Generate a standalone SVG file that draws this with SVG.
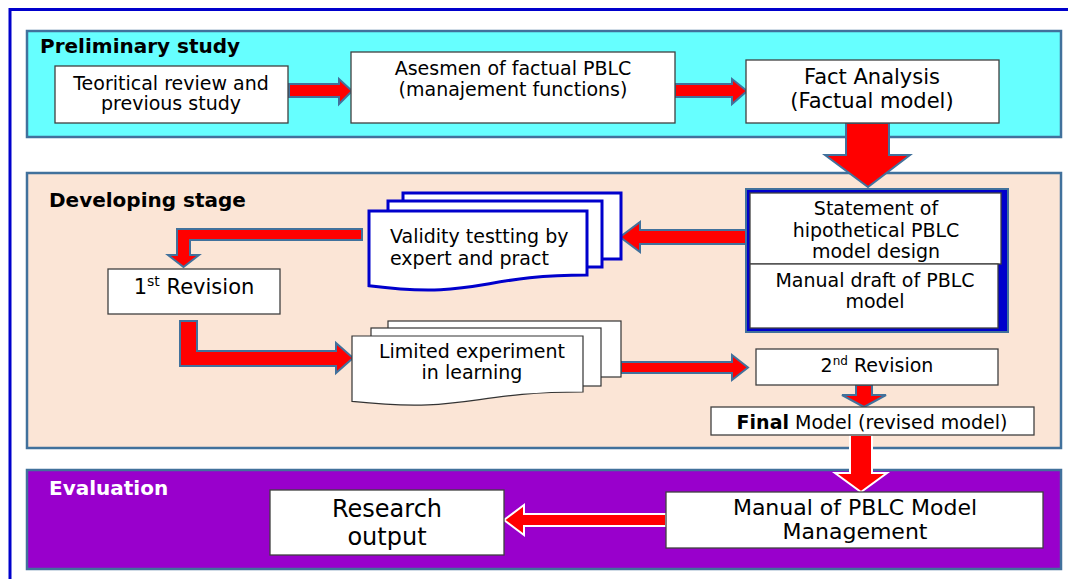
<svg xmlns="http://www.w3.org/2000/svg" width="1068" height="579" viewBox="0 0 1068 579">
  <style>
    .t { font-family: "DejaVu Sans", Verdana, sans-serif; font-size: 19px; fill: #000; }
    .c { text-anchor: middle; }
    .f21 { font-size: 21px; }
    .f22 { font-size: 22px; }
    .f24 { font-size: 24px; }
    .h { font-family: "DejaVu Sans", Verdana, sans-serif; font-size: 20px; font-weight: bold; }
    .box { fill: #fff; stroke: #404040; stroke-width: 1.3; }
    .stage { stroke: #41719C; stroke-width: 2.5; }
    .arr { fill: #FF0000; stroke: #41719C; stroke-width: 2; stroke-linejoin: miter; }
    .arrw { fill: #FF0000; stroke: #FFFFFF; stroke-width: 2; stroke-linejoin: miter; }
    .docb { fill: #fff; stroke: #0000CC; stroke-width: 3; }
    .docg { fill: #fff; stroke: #333; stroke-width: 1.2; }
  </style>

  <rect width="1068" height="579" fill="#fff"/>

  <!-- outer frame: top and left edges -->
  <path d="M10,579 V9.5 H1068" fill="none" stroke="#0000CC" stroke-width="3"/>

  <!-- stage panels -->
  <g id="preliminary">
    <rect class="stage" x="27" y="31" width="1034" height="106" fill="#66FFFF"/>
    <text class="h" x="40" y="53">Preliminary study</text>
  </g>
  <g id="developing">
    <rect class="stage" x="27" y="173" width="1034" height="275" fill="#FBE5D6"/>
    <text class="h" x="49" y="207">Developing stage</text>
  </g>
  <g id="evaluation">
    <rect class="stage" x="27" y="470" width="1034" height="99" fill="#9900CC"/>
    <text class="h" x="49" y="495" fill="#fff">Evaluation</text>
  </g>

  <!-- connectors -->
  <g id="connectors">
    <polygon class="arr" points="289,84 339,84 339,79 352,91 339,104 339,97 289,97"/>
    <polygon class="arr" points="675,84 732,84 732,79 747,91 732,104 732,97 675,97"/>
    <polygon class="arr" points="846,123 889,123 889,155 910,155 868,187 825,155 846,155"/>
    <polygon class="arr" points="746,230 640,230 640,222 620,237 640,252 640,244 746,244"/>
    <polygon class="arr" points="362,229 177,229 177,255 168,255 183.5,267 199,255 190,255 190,240 362,240"/>
    <polygon class="arr" points="180,321 197,321 197,351 336,351 336,343 353,358 336,373 336,366 180,366"/>
    <polygon class="arr" points="621,362 732,362 732,355 748,367.5 732,380 732,373 621,373"/>
    <polygon class="arr" points="856,385 872,385 872,395 886,395 864,407 842,395 856,395"/>
    <polygon class="arrw" points="850,435 872,435 872,473 887,473 861,492 835,473 850,473"/>
    <polygon class="arrw" points="666,514 524,514 524,505 504,520 524,535 524,526 666,526"/>
  </g>

  <!-- preliminary study nodes -->
  <g id="teoritical">
    <rect class="box" x="55" y="66" width="233" height="57"/>
    <text class="t c" x="171" y="90">Teoritical review and</text>
    <text class="t c" x="171" y="110">previous study</text>
  </g>
  <g id="asesmen">
    <rect class="box" x="351" y="52" width="324" height="71"/>
    <text class="t c" x="513" y="75">Asesmen of factual PBLC</text>
    <text class="t c" x="513" y="96">(manajement functions)</text>
  </g>
  <g id="fact-analysis">
    <rect class="box" x="746" y="60" width="253" height="63"/>
    <text class="t c f21" x="872" y="84">Fact Analysis</text>
    <text class="t c f21" x="872" y="108">(Factual model)</text>
  </g>

  <!-- developing stage nodes -->
  <g id="statement">
    <rect x="746" y="189" width="262" height="143" fill="#0000CC" stroke="#41719C" stroke-width="2"/>
    <rect class="box" x="750" y="193" width="251" height="71"/>
    <rect class="box" x="750" y="264" width="248" height="64"/>
    <text class="t c" x="876" y="215">Statement of</text>
    <text class="t c" x="876" y="237">hipothetical PBLC</text>
    <text class="t c" x="876" y="258">model design</text>
    <text class="t c" x="875" y="287">Manual draft of PBLC</text>
    <text class="t c" x="875" y="308">model</text>
  </g>
  <g id="validity">
    <rect class="docb" x="403" y="193" width="218" height="66"/>
    <rect class="docb" x="388" y="201" width="214" height="66"/>
    <path class="docb" d="M369,211 H587 V275 C478,275 478,299.6 369,285.7 Z"/>
    <text class="t" x="390" y="243">Validity testting by</text>
    <text class="t" x="390" y="265">expert and pract</text>
  </g>
  <g id="revision-1">
    <rect class="box" x="108" y="269" width="172" height="45"/>
    <text class="t c f21" x="194" y="294">1<tspan font-size="14" dy="-8">st</tspan><tspan dy="8"> Revision</tspan></text>
  </g>
  <g id="limited-experiment">
    <rect class="docg" x="388" y="321" width="233" height="56"/>
    <rect class="docg" x="371" y="328" width="230" height="58"/>
    <path class="docg" d="M352,336 H583 V392 C467.5,392 467.5,413.5 352,401.4 Z"/>
    <text class="t c" x="472" y="358">Limited experiment</text>
    <text class="t c" x="472" y="379">in learning</text>
  </g>
  <g id="revision-2">
    <rect class="box" x="756" y="349" width="242" height="36"/>
    <text class="t c" x="877" y="372">2<tspan font-size="12" dy="-7">nd</tspan><tspan dy="7"> Revision</tspan></text>
  </g>
  <g id="final-model">
    <rect class="box" x="711" y="407" width="323" height="28"/>
    <text class="t c" x="872" y="429"><tspan font-weight="bold">Final</tspan> Model (revised model)</text>
  </g>

  <!-- evaluation nodes -->
  <g id="manual-management">
    <rect class="box" x="666" y="492" width="377" height="56"/>
    <text class="t c f22" x="855" y="515">Manual of PBLC Model</text>
    <text class="t c f22" x="855" y="539">Management</text>
  </g>
  <g id="research-output">
    <rect class="box" x="270" y="490" width="234" height="65"/>
    <text class="t c f24" x="387" y="517">Research</text>
    <text class="t c f24" x="387" y="545">output</text>
  </g>
</svg>
